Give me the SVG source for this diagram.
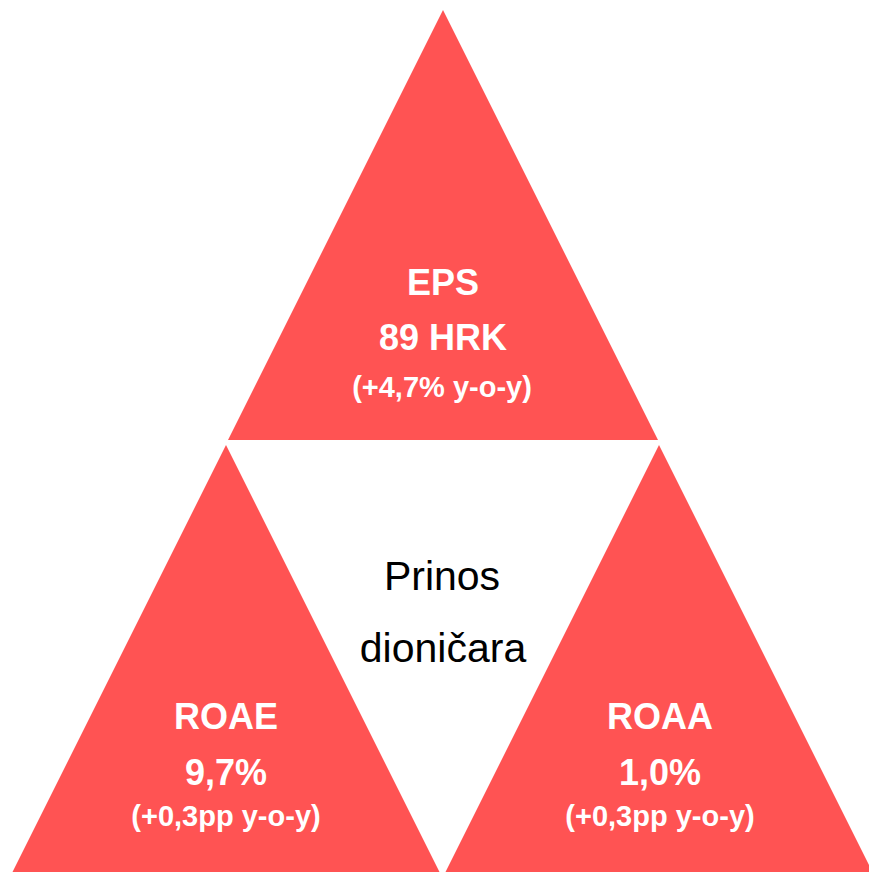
<svg xmlns="http://www.w3.org/2000/svg" width="869" height="872" viewBox="0 0 869 872">
<style>
.tri{fill:#FF5353}
.t{font-family:"Liberation Sans",Arial,sans-serif;font-weight:bold;fill:#FFFFFF;text-anchor:middle}
.big{font-size:36px}
.small{font-size:29px}
.c{font-family:"Liberation Sans",Arial,sans-serif;font-size:41px;fill:#000000;text-anchor:middle}
</style>
<rect width="869" height="872" fill="#FFFFFF"/>
<g id="eps">
<polygon class="tri" points="443,10 658,440 228,440"/>
<text class="t big" x="443" y="295">EPS</text>
<text class="t big" x="443" y="350">89 HRK</text>
<text class="t small" x="442" y="397">(+4,7% y-o-y)</text>
</g>
<g id="roae">
<polygon class="tri" points="226,445 439.5,872 12.5,872"/>
<text class="t big" x="226" y="729">ROAE</text>
<text class="t big" x="226" y="785">9,7%</text>
<text class="t small" x="226" y="826">(+0,3pp y-o-y)</text>
</g>
<g id="roaa">
<polygon class="tri" points="659,445 872.5,872 445.5,872"/>
<text class="t big" x="660" y="729">ROAA</text>
<text class="t big" x="660" y="785">1,0%</text>
<text class="t small" x="660" y="826">(+0,3pp y-o-y)</text>
</g>
<g id="center">
<text class="c" x="442" y="590">Prinos</text>
<text class="c" x="443" y="662">dioničara</text>
</g>
<g id="connectors"></g>
</svg>
